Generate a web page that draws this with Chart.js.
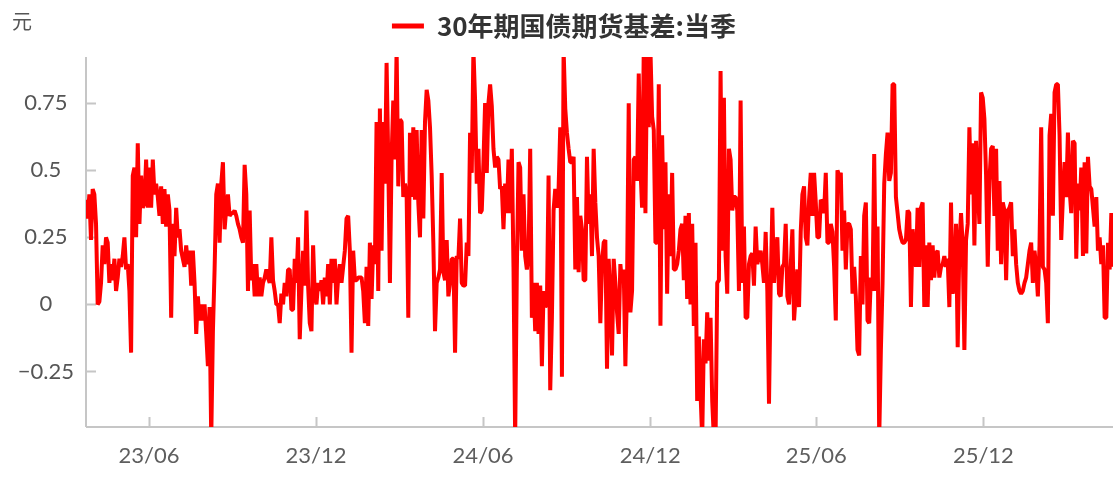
<!DOCTYPE html>
<html><head><meta charset="utf-8">
<script src="https://cdn.jsdelivr.net/npm/chart.js@4/dist/chart.umd.min.js"></script>
<style>html,body{margin:0;padding:0;background:#fff;} #wrap{width:1113px;height:478px;position:relative;}</style>
</head><body><div id="wrap"><canvas id="c"></canvas></div>
<script>
const seriesName = '30年期国债期货基差:当季';
const unitLabel = '元';
const startDate = '2023-03-24';
const endDate = '2026-04-22';
const xTickDates = ['2023-06-01','2023-12-01','2024-06-01','2024-12-01','2025-06-01','2025-12-01'];
const xTickLabels = ['23/06','23/12','24/06','24/12','25/06','25/12'];
const yTicks = [-0.25, 0, 0.25, 0.5, 0.75];
const yTickLabels = ['\u22120.25','0','0.25','0.5','0.75'];
const yMin = -0.457, yMax = 0.922;

const basis2023 = [
0.39,0.32,0.41,0.24,0.43,0.41,0.30,0.00,0.01,0.08,
0.22,0.15,0.25,0.23,0.08,0.15,0.09,0.17,0.05,0.10,
0.17,0.14,0.18,0.25,0.13,0.15,0.05,-0.18,0.48,0.51,
0.25,0.60,0.30,0.48,0.36,0.38,0.54,0.36,0.51,0.36,
0.54,0.41,0.45,0.40,0.33,0.44,0.30,0.43,0.29,0.41,
0.35,-0.05,0.30,0.18,0.36,0.25,0.28,0.20,0.17,0.14,
0.22,0.15,0.20,0.07,0.20,0.08,-0.11,0.03,-0.06,0.00,
-0.06,0.00,-0.11,-0.23,-0.01,-0.50,-0.10,0.13,0.41,0.45,
0.23,0.45,0.53,0.28,0.36,0.41,0.33,0.34,0.34,0.35,
0.33,0.30,0.28,0.25,0.23,0.52,0.41,0.05,0.35,0.09,
0.15,0.03,0.15,0.03,0.10,0.03,0.08,0.10,0.13,0.10,
0.08,0.25,0.09,0.05,0.00,0.00,-0.07,0.04,0.00,0.08,
0.03,0.13,0.13,-0.02,-0.02,0.17,0.08,0.25,-0.13,0.05,
0.20,0.07,0.35,0.07,-0.07,-0.10,0.22,0.03,0.00,0.08,
0.05,0.09,0.00,0.10,0.03,0.15,0.00,0.17,0.08,0.17,
0.00,0.10
];
const basis2024a = [
0.15,0.08,0.14,0.20,0.32,0.33,0.20,-0.18,0.20,0.09,
0.09,0.10,0.10,0.10,0.05,-0.07,0.14,-0.08,0.23,0.02,
0.22,0.15,0.68,0.05,0.73,0.20,0.68,0.45,0.90,0.54,
0.08,0.55,0.76,0.54,0.95,0.44,0.69,0.68,0.40,0.45,
0.41,-0.05,0.64,0.40,0.66,0.39,0.65,0.38,0.25,0.65,
0.32,0.68,0.80,0.76,0.66,0.48,0.23,-0.10,0.08,0.10,
0.13,0.49,0.12,0.09,0.24,0.03,0.08,0.17,0.17,-0.18,
0.18,0.17,0.32,0.08,0.07,0.07,0.23,0.18,0.64,0.49,
0.95,0.76,0.45,0.58,0.34,0.35,0.53,0.75,0.49,0.75,
0.82,0.74,0.58,0.51,0.55,0.54,0.43,0.44,0.28,0.45,
0.34,0.54,0.34,0.58,0.14,-0.50,0.13,0.53,0.51,0.20,
0.41,0.18,0.13,0.18,0.58,-0.05,0.08,-0.10,0.08,-0.11,
0.07,-0.23,0.05,-0.01,0.00,0.48,-0.32,-0.05,0.35,0.43,
0.36,0.43,0.66,-0.27,0.95,0.73,0.64,0.58,0.53,0.53,
0.55,0.13,0.40,0.12,0.33,0.28,0.09,0.09,0.55,0.30
];
const basis2024b = [
0.41,0.18,0.58,0.38,0.25,0.18,-0.07,0.15,0.23,0.24,
-0.24,0.17,0.03,-0.19,0.17,0.08,-0.03,-0.11,0.15,0.08,
0.13,-0.23,0.08,0.75,-0.03,0.05,0.54,0.55,0.46,0.86,
0.51,0.36,0.95,0.34,0.95,0.66,0.95,0.70,0.65,0.23,
0.23,0.82,-0.08,0.63,0.28,0.53,0.04,0.41,0.18,0.49,
0.13,0.13,0.15,0.20,0.28,0.30,0.09,0.33,0.02,0.34,
0.00,0.30,-0.08,0.23,-0.36,-0.12,-0.33,-0.50,-0.13,-0.22,
-0.03,-0.21,-0.05,-0.36,-0.50,-0.50,0.08,0.09,0.87,0.20,
0.77,0.18,0.04,0.58,0.54,0.35,0.40,0.40,0.35,0.05,
0.76,0.08,0.29,-0.05,-0.05,0.15,0.18,0.19,0.07,0.29,
0.15,0.18,0.20,0.15,0.08,0.27,0.05,-0.37,0.07,0.36,
0.08,0.20,0.25,0.04,0.03,0.14,0.15,0.30,0.03,0.00,
0.14,0.28,-0.06,0.04,0.13,-0.01,0.27,0.41,0.44,0.25,
0.22,0.39,0.49,0.33,0.49,0.38,0.25,0.25,0.39,0.38,
0.34,0.49,0.23,0.23,0.30,0.27,0.14,-0.06,0.50,0.48
];
const basis2025 = [
0.49,0.20,0.35,0.13,0.30,0.30,0.28,0.04,0.14,0.03,
-0.17,-0.19,0.18,0.00,0.33,0.38,-0.06,-0.07,0.10,0.05,
0.56,0.05,0.29,-0.50,-0.17,0.08,0.45,0.56,0.64,0.46,
0.49,0.82,0.82,0.40,0.34,0.28,0.25,0.23,0.23,0.24,
0.35,0.34,-0.01,0.28,0.20,0.14,0.36,0.14,0.36,0.38,
-0.01,0.22,-0.01,0.23,0.09,0.22,0.10,0.19,0.20,0.10,
0.14,0.15,0.18,0.14,0.17,-0.01,0.38,0.04,0.08,0.30,
-0.16,0.22,0.34,0.22,-0.17,0.24,0.30,0.66,0.41,0.60,
0.22,0.61,0.45,0.30,0.79,0.77,0.69,0.48,0.14,0.46,
0.58,0.59,0.33,0.58,0.20,0.46,0.15,0.38,0.35,0.09,
0.35,0.36,0.38,0.18,0.28,0.15,0.08,0.05,0.04,0.05,
0.08,0.10,0.15,0.20,0.23,0.08,0.20,0.14,0.03,0.22,
0.66,0.14,0.13,0.08,-0.07,0.63,0.71,0.33,0.79,0.82,
0.82,0.63,0.24,0.40,0.53,0.40,0.64,0.43,0.34,0.61,
0.60,0.17,0.45,0.35,0.51,0.18,0.53,0.19,0.55,0.44,
0.43,0.36,0.29,0.40,0.20,0.25,0.15,0.22,-0.05,-0.05,
0.23,0.13,0.34,0.14
];

const basis = basis2023.concat(basis2024a, basis2024b, basis2025);
const DAY = 86400000;
const dayOf = d => (Date.parse(d) - Date.parse(startDate)) / DAY;
const spanDays = dayOf(endDate);
const stepDays = spanDays / (basis.length - 1);
const points = basis.map((v, i) => ({ x: i * stepDays, y: v }));

const TICK_FONT = { family: 'Lato, "Noto Sans", sans-serif', size: 22 };
const AXIS_COLOR = '#c6c6c6';

const axisDecor = {
  id: 'axisDecor',
  beforeDatasetsDraw(chart) {
    const { ctx, chartArea: a, scales: { x, y } } = chart;
    ctx.save();
    ctx.strokeStyle = AXIS_COLOR;
    ctx.lineWidth = 2;
    ctx.beginPath();
    ctx.moveTo(a.left, a.top); ctx.lineTo(a.left, a.bottom);
    ctx.moveTo(a.left, a.bottom); ctx.lineTo(a.right, a.bottom);
    ctx.stroke();
    ctx.beginPath();
    y.ticks.forEach(t => { const py = Math.round(y.getPixelForValue(t.value)) + 0.5; ctx.moveTo(a.left, py); ctx.lineTo(a.left + 10, py); });
    x.ticks.forEach(t => { const px = Math.round(x.getPixelForValue(t.value)) + 0.5; ctx.moveTo(px, a.bottom); ctx.lineTo(px, a.bottom - 10); });
    ctx.stroke();
    ctx.fillStyle = '#555';
    ctx.font = '20px "Noto Sans CJK SC", sans-serif';
    ctx.textAlign = 'left';
    ctx.textBaseline = 'middle';
    ctx.fillText(unitLabel, 12, 21);
    ctx.restore();
  }
};

new Chart(document.getElementById('c'), {
  type: 'line',
  data: {
    datasets: [{
      label: seriesName,
      data: points,
      borderColor: '#ff0000',
      backgroundColor: '#ff0000',
      borderWidth: 4,
      pointRadius: 0,
      tension: 0,
      borderJoinStyle: 'bevel',
      clip: 0
    }]
  },
  options: {
    responsive: true,
    maintainAspectRatio: false,
    animation: false,
    devicePixelRatio: 1,
    layout: { padding: { top: 3, left: 15, right: 0, bottom: 0 } },
    plugins: {
      tooltip: { enabled: false },
      legend: {
        display: true,
        position: 'top',
        weight: 3000,
        labels: {
          font: { family: '"Noto Sans CJK SC", sans-serif', size: 26, weight: 'bold' },
          color: '#333',
          boxWidth: 32,
          boxHeight: 5,
          padding: 10,
          generateLabels: () => [{ text: seriesName, fillStyle: '#ff0000', strokeStyle: '#ff0000', lineWidth: 0, hidden: false, datasetIndex: 0, fontColor: '#333' }]
        }
      },
      title: {
        display: true,
        text: ' ',
        font: { size: 1, lineHeight: 1 },
        padding: { top: 0, bottom: 7 }
      }
    },
    scales: {
      x: {
        type: 'linear',
        min: 0,
        max: spanDays,
        grid: { display: false, drawTicks: false },
        border: { display: false },
        afterBuildTicks: s => { s.ticks = xTickDates.map(d => ({ value: dayOf(d) })); },
        afterFit: s => { s.height = 51; },
        ticks: {
          autoSkip: false,
          maxRotation: 0,
          font: TICK_FONT,
          color: '#5e5e5e',
          padding: 16,
          callback: (v, i) => xTickLabels[i]
        }
      },
      y: {
        type: 'linear',
        min: yMin,
        max: yMax,
        grid: { display: false, drawTicks: false },
        border: { display: false },
        afterBuildTicks: s => { s.ticks = yTicks.map(v => ({ value: v })); },
        afterFit: s => { s.width = 71; },
        ticks: {
          crossAlign: 'center',
          font: TICK_FONT,
          color: '#555',
          padding: 12,
          callback: (v, i) => yTickLabels[i]
        }
      }
    }
  },
  plugins: [axisDecor]
});
</script>
</body></html>
